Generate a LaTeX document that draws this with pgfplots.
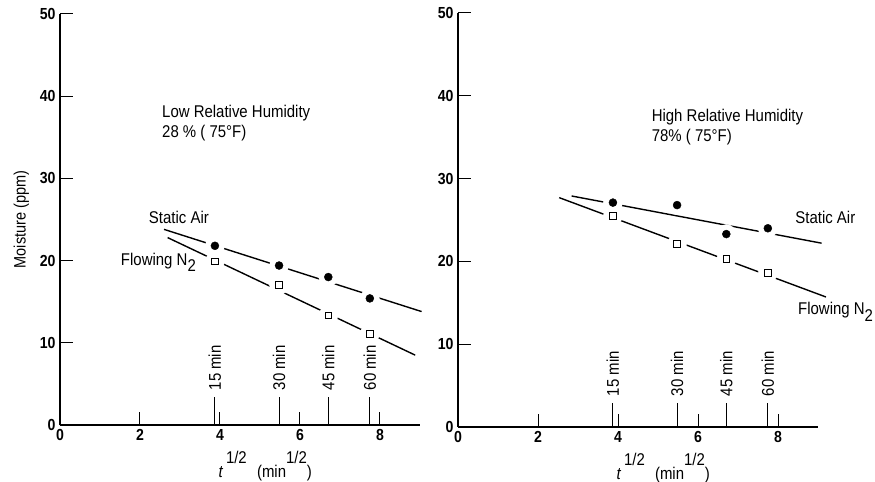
\documentclass[border=0pt]{standalone}
\usepackage{fontspec}
\setmainfont{Liberation Sans}[FakeStretch=0.88]
\usepackage{pgfplots}
\pgfplotsset{compat=1.18}
\pgfplotsset{
 panel/.style={
  scale only axis, width=360bp, xmin=0, xmax=9, ymin=0, ymax=50,
  anchor=south west,
  axis lines=left, axis line style={-, line width=1.3bp},
  xtick={0,2,4,6,8}, ytick={0,10,20,30,40,50},
  tick align=inside, major tick length=13bp, tick style={black, line width=1bp},
  tick label style={font=\fontsize{16bp}{18bp}\selectfont\bfseries},
  yticklabel style={xshift=-1bp},
  xticklabel style={yshift=-1bp},
  /pgf/number format/assume math mode=true,
  clip=false,
  xlabel={\fontsize{17bp}{19bp}\selectfont\textit{t}\,\raisebox{0.85em}{1/2}\hspace{0.6em}(min\raisebox{0.85em}{1/2})},
  xlabel style={at={(ticklabel cs:0.57)}, anchor=north, yshift=-3bp},
 },
 dline/.style={black, line width=1.4bp, no marks},
 halo/.style={only marks, mark=*, mark size=9.5bp, white, mark options={draw=white, fill=white}},
 dots/.style={only marks, mark=*, mark size=4bp, black},
 boxes/.style={only marks, mark=square*, mark size=3.3bp, black, mark options={fill=white, line width=1bp}},
 mins/.style={ycomb, black, line width=1bp, no marks},
}
\begin{document}
\begin{tikzpicture}[font=\fontsize{17bp}{20bp}\selectfont]
\path[use as bounding box] (0,0) rectangle (875bp,482bp);
% ---------- left panel ----------
\begin{axis}[panel, at={(60bp,57bp)}, height=411bp,
  ylabel={Moisture (ppm)}, ylabel style={font=\fontsize{16.5bp}{18bp}\selectfont, yshift=4bp}]
\addplot[dline] coordinates {(2.60,23.8) (9.04,13.8)};
\addplot[dline] coordinates {(2.69,22.8) (8.88,8.5)};
\addplot[halo] coordinates {(3.873,21.8) (5.477,19.4) (6.708,18.0) (7.746,15.4)};
\addplot[halo] coordinates {(3.873,19.9) (5.477,17.0) (6.708,13.3) (7.746,11.1)};
\addplot[dots] coordinates {(3.873,21.8) (5.477,19.4) (6.708,18.0) (7.746,15.4)};
\addplot[boxes] coordinates {(3.873,19.9) (5.477,17.0) (6.708,13.3) (7.746,11.1)};
\addplot[mins] coordinates {(3.873,3.4) (5.477,3.4) (6.708,3.4) (7.746,3.4)};
\node[rotate=90, anchor=west] at (axis cs:3.873,3.8) {15 min};
\node[rotate=90, anchor=west] at (axis cs:5.477,3.8) {30 min};
\node[rotate=90, anchor=west] at (axis cs:6.708,3.8) {45 min};
\node[rotate=90, anchor=west] at (axis cs:7.746,3.8) {60 min};
\node[anchor=north west, align=left, inner sep=0pt] at (axis cs:2.55,38.9) {Low Relative Humidity\\28 \% ( 75°F)};
\node[anchor=west, inner sep=0pt] at (axis cs:2.22,25.3) {Static Air};
\node[anchor=west, inner sep=0pt] at (axis cs:1.52,19.8) {Flowing N\raisebox{-0.4em}{2}};
\end{axis}
% ---------- right panel ----------
\begin{axis}[panel, at={(458bp,55bp)}, height=414bp]
\addplot[dline] coordinates {(2.84,27.9) (9.09,22.2)};
\addplot[dline] coordinates {(2.53,27.7) (9.20,15.7)};
\addplot[halo] coordinates {(3.873,27.1) (5.477,26.8) (6.708,23.3) (7.746,24.0)};
\addplot[halo] coordinates {(3.873,25.5) (5.477,22.1) (6.708,20.3) (7.746,18.6)};
\addplot[dots] coordinates {(3.873,27.1) (5.477,26.8) (6.708,23.3) (7.746,24.0)};
\addplot[boxes] coordinates {(3.873,25.5) (5.477,22.1) (6.708,20.3) (7.746,18.6)};
\addplot[mins] coordinates {(3.873,2.9) (5.477,2.9) (6.708,2.9) (7.746,2.9)};
\node[rotate=90, anchor=west] at (axis cs:3.873,3.3) {15 min};
\node[rotate=90, anchor=west] at (axis cs:5.477,3.3) {30 min};
\node[rotate=90, anchor=west] at (axis cs:6.708,3.3) {45 min};
\node[rotate=90, anchor=west] at (axis cs:7.746,3.3) {60 min};
\node[anchor=north west, align=left, inner sep=0pt] at (axis cs:4.84,38.4) {High Relative Humidity\\78\% ( 75°F)};
\node[anchor=west, inner sep=0pt] at (axis cs:8.43,25.3) {Static Air};
\node[anchor=west, inner sep=0pt] at (axis cs:8.50,13.9) {Flowing N\raisebox{-0.4em}{2}};
\end{axis}
\end{tikzpicture}
\end{document}
